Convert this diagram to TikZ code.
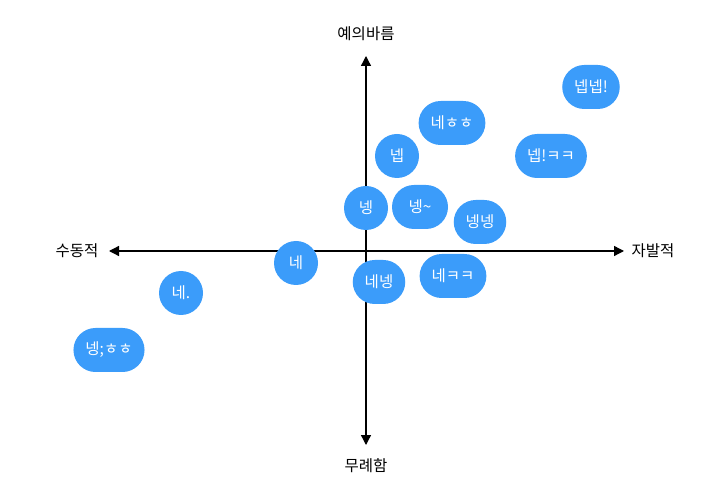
\documentclass[tikz,border=0pt]{standalone}
\usepackage{fontspec}
\setmainfont{Noto Sans CJK KR}
\usepackage{xcolor}
\usetikzlibrary{arrows.meta}
\definecolor{bubbleblue}{RGB}{59,156,250}

\begin{document}
\begin{tikzpicture}[x=1pt, y=-1pt,
	bubble/.style={fill=bubbleblue, draw=none, text=white, rounded corners=22pt,
		minimum height=44pt, minimum width=44pt, inner xsep=12pt, font=\fontsize{15.5}{17}\selectfont},
	axislabel/.style={font=\fontsize{15.5}{17}\selectfont, text=black},
	axis/.style={line width=1.3pt, {Triangle[length=10pt,width=10pt]}-{Triangle[length=10pt,width=10pt]}}]
	\useasboundingbox (0,0) rectangle (720,502);
	% Axes
	\coordinate (top) at (366,56);
	\coordinate (bottom) at (366,445);
	\coordinate (left) at (109,251);
	\coordinate (right) at (624,251);
	\draw[axis] (bottom) -- (top);
	\draw[axis] (left) -- (right);
	% Axis labels
	\node[axislabel] (polite) at (366,34) {예의바름};
	\node[axislabel] (rude) at (366,466) {무례함};
	\node[axislabel] (passive) at (77,251) {수동적};
	\node[axislabel] (active) at (653,251) {자발적};
	% Answers
	\node[bubble] (nepnep) at (591,87) {넵넵!};
	\node[bubble] (nehh) at (452,123) {네ㅎㅎ};
	\node[bubble] (nep) at (397,156) {넵};
	\node[bubble] (nepkk) at (551,156) {넵!ㅋㅋ};
	\node[bubble] (neng) at (366,208) {넹};
	\node[bubble, minimum width=56pt] (nengwave) at (420,207) {넹\textasciitilde};
	\node[bubble] (nengneng) at (480,222) {넹넹};
	\node[bubble] (ne) at (296,263) {네};
	\node[bubble] (neneng) at (379,282) {네넹};
	\node[bubble] (nekk) at (453,276) {네ㅋㅋ};
	\node[bubble] (nedot) at (181,293) {네.};
	\node[bubble] (nenghh) at (109,350) {넹;ㅎㅎ};
\end{tikzpicture}
\end{document}
